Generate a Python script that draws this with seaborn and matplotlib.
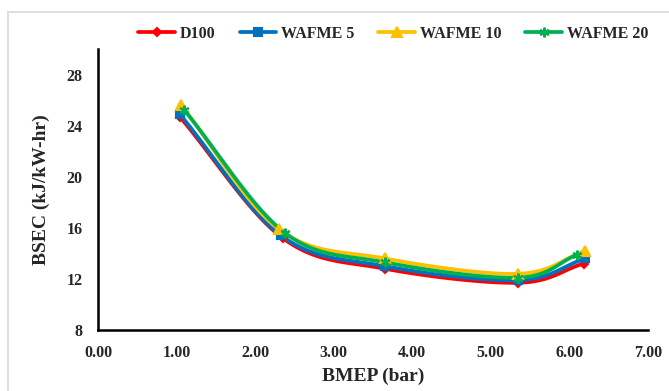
import numpy as np
import pandas as pd
import matplotlib
matplotlib.use("Agg")
import matplotlib.pyplot as plt
from matplotlib.lines import Line2D
import seaborn as sns

series = ["D100", "WAFME 5", "WAFME 10", "WAFME 20"]
bmep = {
    "D100":     [1.04, 2.35, 3.65, 5.35, 6.18],
    "WAFME 5":  [1.04, 2.33, 3.65, 5.35, 6.20],
    "WAFME 10": [1.06, 2.30, 3.65, 5.35, 6.20],
    "WAFME 20": [1.10, 2.38, 3.65, 5.35, 6.10],
}
bsec = {
    "D100":     [24.7, 15.2, 12.8, 11.7, 13.2],
    "WAFME 5":  [24.9, 15.4, 13.0, 11.9, 13.6],
    "WAFME 10": [25.6, 15.9, 13.6, 12.4, 14.2],
    "WAFME 20": [25.2, 15.6, 13.3, 12.1, 13.9],
}
colors = {"D100": "#FF0000", "WAFME 5": "#0070C0", "WAFME 10": "#FFC000", "WAFME 20": "#00B050"}
markers = {"D100": "D", "WAFME 5": "s", "WAFME 10": "^", "WAFME 20": (6, 2, 0)}
msize = {"D100": 4.5, "WAFME 5": 6, "WAFME 10": 7, "WAFME 20": 7}
xticks = [0, 1, 2, 3, 4, 5, 6, 7]
yticks = [8, 12, 16, 20, 24, 28]


def smooth(x, y, n=30):
    # Catmull-Rom style smoothing like Excel's smoothed lines
    x = np.asarray(x, float); y = np.asarray(y, float)
    px = np.concatenate([[2 * x[0] - x[1]], x, [2 * x[-1] - x[-2]]])
    py = np.concatenate([[2 * y[0] - y[1]], y, [2 * y[-1] - y[-2]]])
    ox, oy = [], []
    for i in range(1, len(px) - 2):
        t = np.linspace(0, 1, n, endpoint=(i == len(px) - 3))
        for P, out in ((px, ox), (py, oy)):
            p0, p1, p2, p3 = P[i - 1], P[i], P[i + 1], P[i + 2]
            out.extend(0.5 * ((2 * p1) + (-p0 + p2) * t + (2 * p0 - 5 * p1 + 4 * p2 - p3) * t ** 2
                              + (-p0 + 3 * p1 - 3 * p2 + p3) * t ** 3))
    return np.array(ox), np.array(oy)


sns.set_style("white")
plt.rcParams["font.family"] = ["Liberation Serif", "DejaVu Serif"]
plt.rcParams["font.weight"] = "bold"

fig = plt.figure(figsize=(6.69, 3.91), dpi=100)
ax = fig.add_axes([98 / 669, 1 - 330 / 391, (648 - 98) / 669, (330 - 49) / 391])

handles = []
for s in series:
    sx, sy = smooth(bmep[s], bsec[s])
    df = pd.DataFrame({"x": sx, "y": sy})
    sns.lineplot(data=df, x="x", y="y", sort=False, ax=ax, color=colors[s], lw=2.7, zorder=3)
    pts = pd.DataFrame({"x": bmep[s], "y": bsec[s]})
    ax.plot(pts["x"], pts["y"], ls="none", marker=markers[s], ms=msize[s], color=colors[s],
            mec=colors[s], mew=1.5, zorder=4)
    handles.append(Line2D([], [], color=colors[s], lw=2.7, marker=markers[s], ms=msize[s],
                          mec=colors[s], mew=1.5, label=s))

ax.set_xlim(0, 7)
ax.set_ylim(8, 30)
ax.set_xticks(xticks)
ax.set_xticklabels([f"{v:.2f}" for v in xticks])
ax.set_yticks(yticks)
ax.set_yticklabels([str(v) for v in yticks])
for sp in ["top", "right"]:
    ax.spines[sp].set_visible(False)
for sp in ["left", "bottom"]:
    ax.spines[sp].set_color("black")
    ax.spines[sp].set_linewidth(1.8)
ax.tick_params(axis="x", direction="inout", length=5, width=1.8, labelsize=11.5, pad=8)
ax.tick_params(axis="y", direction="out", length=3, width=1.8, labelsize=11.5, pad=8)
for lab in ax.get_xticklabels() + ax.get_yticklabels():
    lab.set_fontweight("bold")
ax.set_xlabel("BMEP (bar)", fontsize=14, fontweight="bold", labelpad=5)
ax.set_ylabel("BSEC (kJ/kW-hr)", fontsize=14, fontweight="bold", labelpad=12)

fig.legend(handles=handles, loc="center", bbox_to_anchor=(0.588, 1 - 34 / 391), ncol=4,
           frameon=False, prop={"weight": "bold", "size": 11.5}, handlelength=2.3,
           columnspacing=1.5, handletextpad=0.3)

# chart-area border (light gray), top and left edges visible
fig.add_artist(Line2D([8 / 669, 1], [1 - 12 / 391] * 2, color="#d9d9d9", lw=1.2, transform=fig.transFigure))
fig.add_artist(Line2D([8 / 669] * 2, [0, 1 - 12 / 391], color="#d9d9d9", lw=1.2, transform=fig.transFigure))

fig.savefig("out.png", dpi=100)
